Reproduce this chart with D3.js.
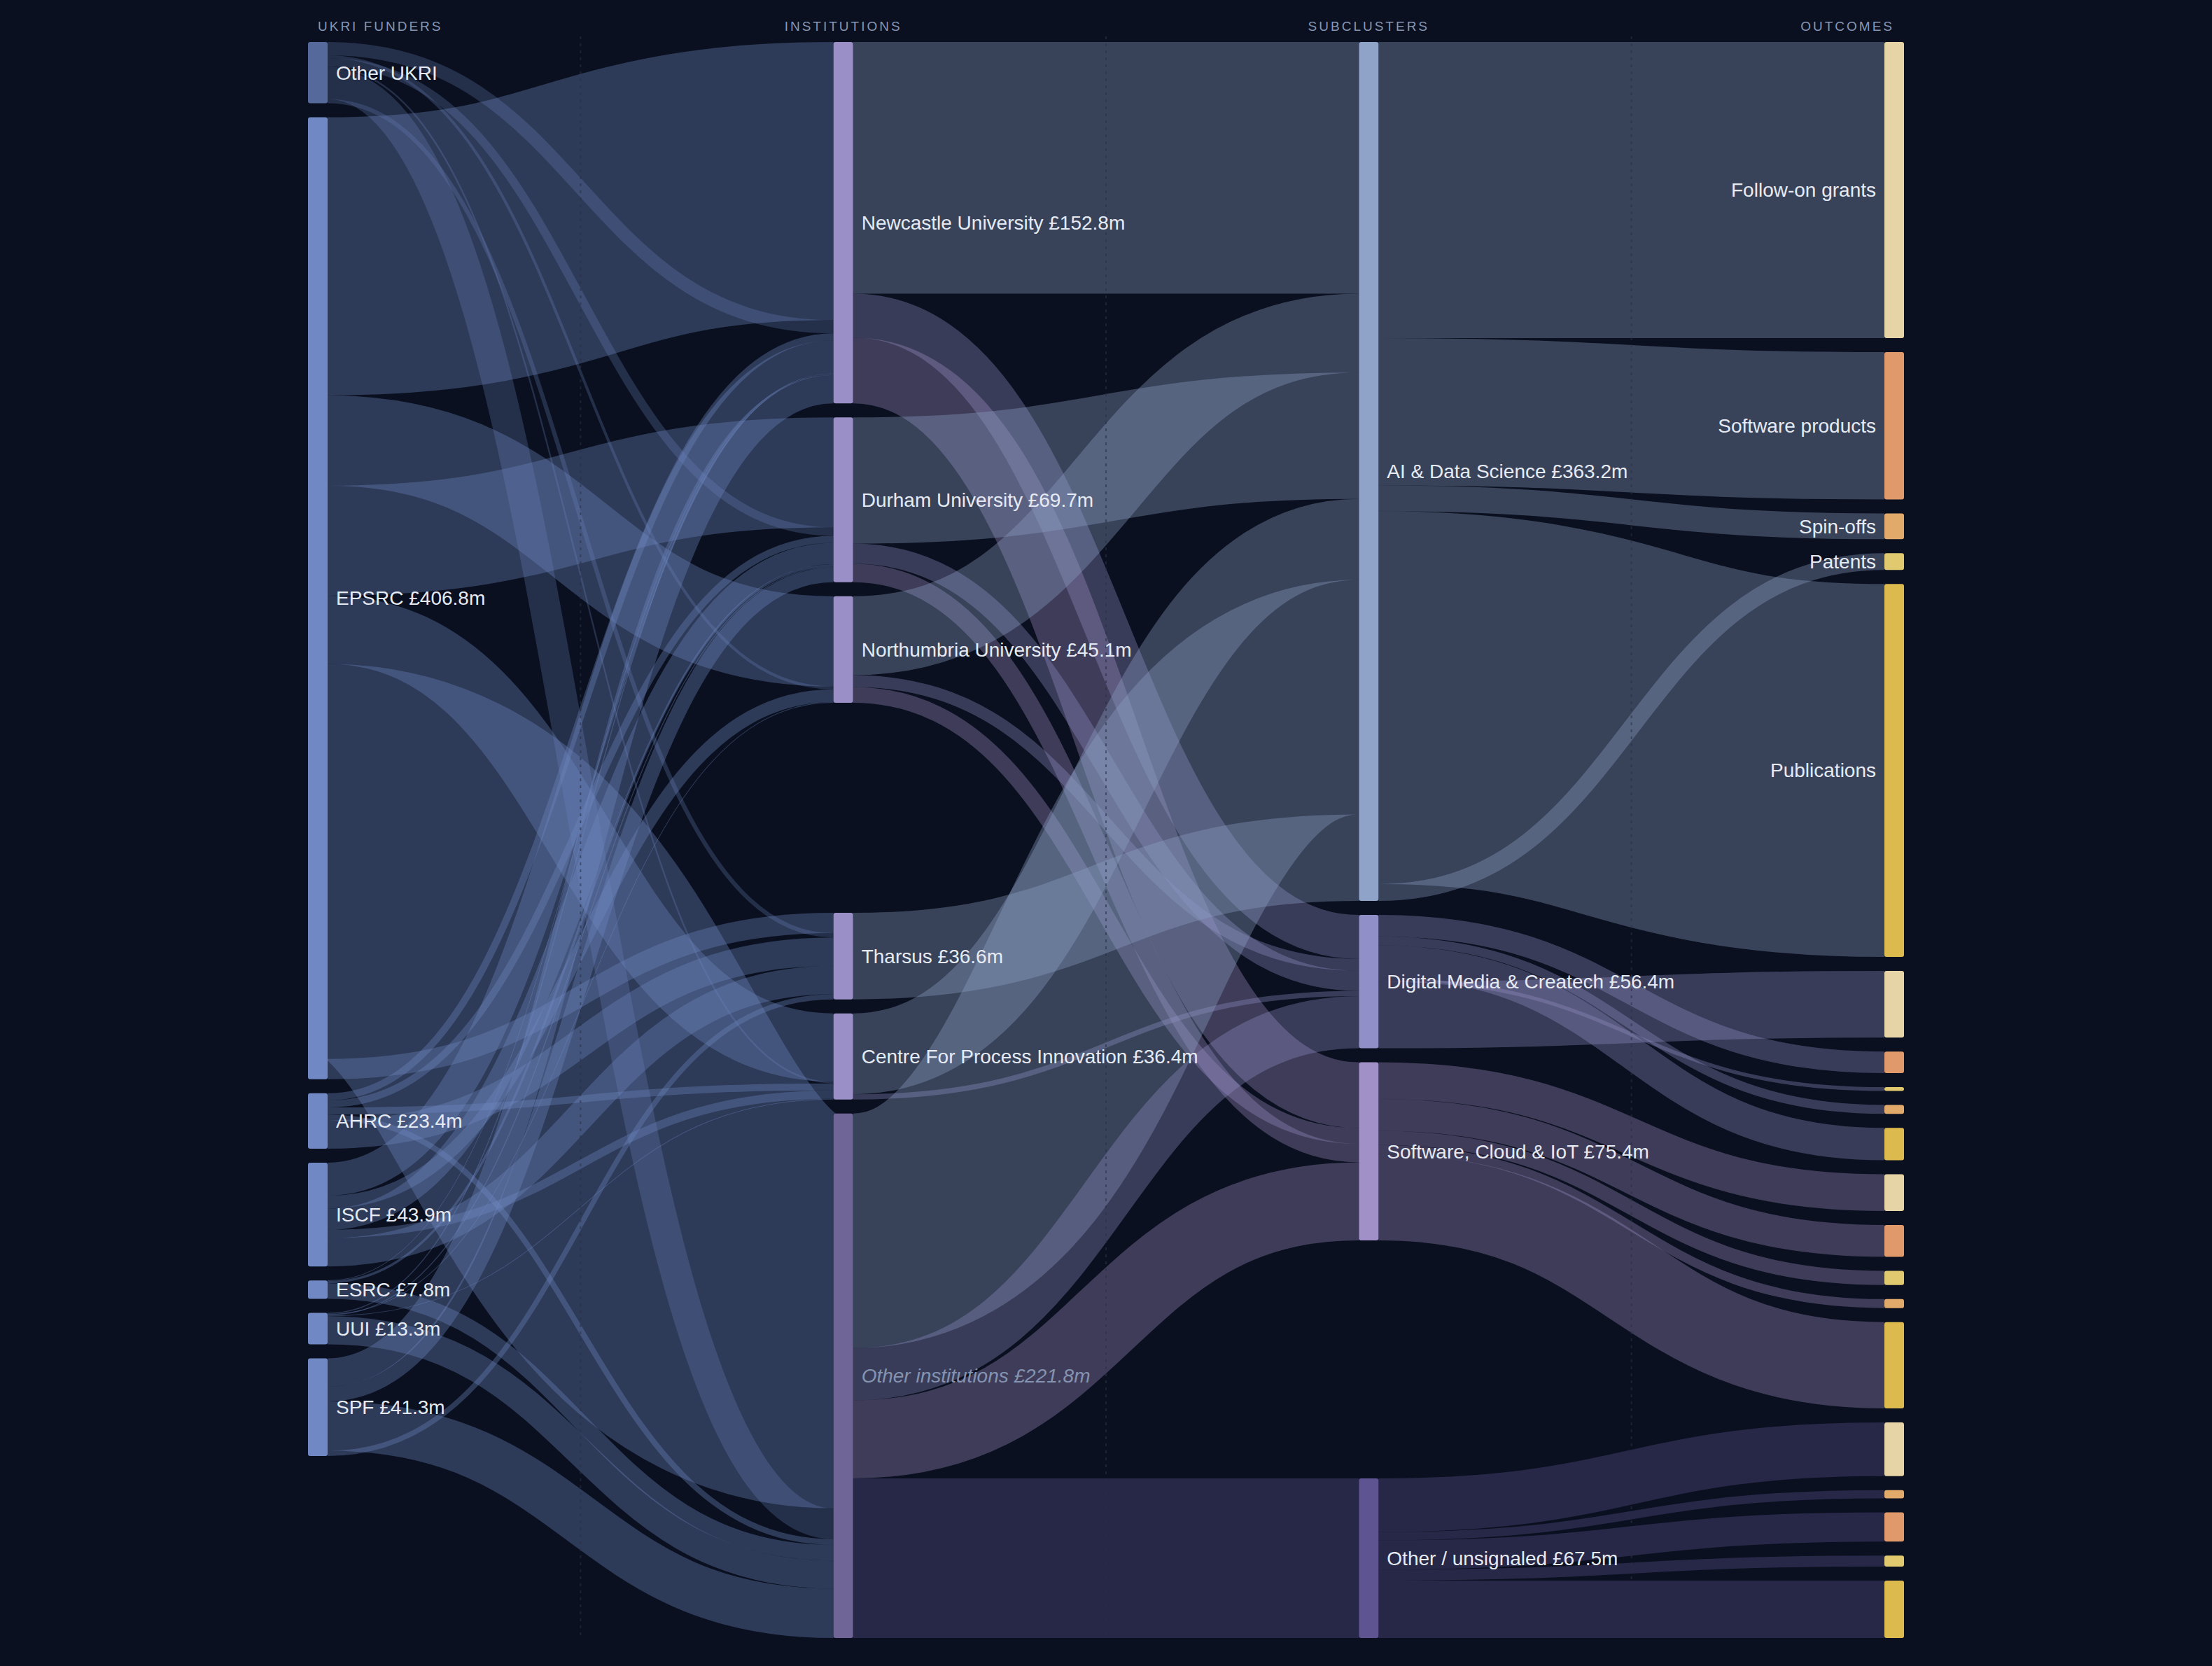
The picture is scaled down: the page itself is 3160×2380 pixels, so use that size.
<!DOCTYPE html>
<html>
<head>
<meta charset="utf-8">
<script src="https://cdn.jsdelivr.net/npm/d3@7"></script>
<style>
  html, body { margin: 0; padding: 0; background: #0a101f; }
  svg { display: block; }
</style>
</head>
<body>
<div id="chart"></div>
<script>
// ---- data (£m) ----
const columnTitles = ["UKRI FUNDERS", "INSTITUTIONS", "SUBCLUSTERS", "OUTCOMES"];

const funders = ["Other UKRI", "EPSRC", "AHRC", "ISCF", "ESRC", "UUI", "SPF"];
const funderTotals = [null, 406.8, 23.4, 43.9, 7.8, 13.3, 41.3];

const institutions = ["Newcastle University", "Durham University", "Northumbria University",
  "Tharsus", "Centre For Process Innovation", "Other institutions"];
const institutionTotals = [152.8, 69.7, 45.1, 36.6, 36.4, 221.8];

const subclusters = ["AI & Data Science", "Digital Media & Createch", "Software, Cloud & IoT", "Other / unsignaled"];
const subclusterTotals = [363.2, 56.4, 75.4, 67.5];

const outcomeTypes = ["Follow-on grants", "Software products", "Spin-offs", "Patents", "Publications"];
// outcome nodes under each subcluster, top to bottom (index into outcomeTypes)
const outcomeOrder = [[0, 1, 2, 3, 4], [0, 1, 3, 2, 4], [0, 1, 3, 2, 4], [0, 2, 1, 3, 4]];

// order in which flows leave a funder / reach a subcluster, and reach an institution
const institutionFlowOrder = ["Newcastle University", "Northumbria University", "Durham University",
  "Centre For Process Innovation", "Other institutions", "Tharsus"];
const funderFlowOrder = ["EPSRC", "Other UKRI", "AHRC", "ISCF", "ESRC", "UUI", "SPF"];

// rows = funders, columns = institutions
const funderToInstitution = [
  [5.6, 3.6, 1.2, 1.8, 0.7, 13.0],
  [117.6, 46.5, 38.2, 8.6, 28.9, 167.0],
  [3.0, 3.0, 0, 12.0, 3.0, 2.4],
  [14.0, 9.0, 5.4, 12.0, 3.5, 0],
  [0.2, 1.0, 0, 0, 0, 6.6],
  [0.4, 0.4, 0.3, 0, 0.3, 11.9],
  [12.0, 6.2, 0, 2.2, 0, 20.9]
];

// rows = institutions, columns = subclusters
const institutionToSubcluster = [
  [106.4, 18.6, 27.8, 0],
  [53.4, 8.5, 7.8, 0],
  [33.4, 5.0, 6.7, 0],
  [36.6, 0, 0, 0],
  [34.2, 2.2, 0, 0],
  [99.2, 22.1, 33.0, 67.5]
];

// rows = subclusters, columns = outcomeTypes
const subclusterToOutcome = [
  [125.2, 62.3, 10.9, 7.1, 157.7],
  [28.2, 9.1, 3.8, 1.6, 13.7],
  [15.5, 13.5, 3.8, 6.0, 36.5],
  [22.7, 12.4, 3.5, 4.6, 24.3]
];

// ---- styles ----
const W = 3160, H = 2380;
const BG = "#0a101f";
const FONT = "'Liberation Sans', Arial, sans-serif";
const funderColor = (i) => i === 0 ? "#556a9b" : "#7089c4";
const institutionColor = (name) => name === "Other institutions" ? "#6f6597" : "#9b8fc8";
const subclusterColors = ["#8fa2c8", "#918fc7", "#a18fc7", "#5e5491"];
const outcomeColors = ["#e6d3a6", "#e0996a", "#e2aa6a", "#e0c96e", "#dcba4e"];

// ---- graph ----
const nodes = [];
const fNodes = funders.map((name, i) => {
  const n = { name, col: 0, color: funderColor(i), total: funderTotals[i] };
  nodes.push(n); return n;
});
const iNodes = institutions.map((name, i) => {
  const n = { name, col: 1, color: institutionColor(name), total: institutionTotals[i], muted: name === "Other institutions" };
  nodes.push(n); return n;
});
const sNodes = subclusters.map((name, i) => {
  const n = { name, col: 2, color: subclusterColors[i], total: subclusterTotals[i] };
  nodes.push(n); return n;
});
const oNodes = subclusters.map((s, si) => {
  const byType = [];
  outcomeOrder[si].forEach(k => {
    const n = { name: outcomeTypes[k], col: 3, color: outcomeColors[k], total: null };
    nodes.push(n); byType[k] = n;
  });
  return byType;
});

const links = [];
funderToInstitution.forEach((row, i) => row.forEach((v, j) => {
  if (v > 0) links.push({ source: fNodes[i], target: iNodes[j], value: v });
}));
institutionToSubcluster.forEach((row, i) => row.forEach((v, j) => {
  if (v > 0) links.push({ source: iNodes[i], target: sNodes[j], value: v });
}));
subclusterToOutcome.forEach((row, i) => row.forEach((v, k) => {
  if (v > 0) links.push({ source: sNodes[i], target: oNodes[i][k], value: v });
}));

// ---- sankey layout (same algorithm as d3-sankey, node order kept) ----
function layoutSankey(graph, o) {
  const { x0, y0, x1, y1, dx, dy, iterations, finalOrder } = o;
  const { nodes, links } = graph;
  nodes.forEach((n, i) => { n.index = i; n.sourceLinks = []; n.targetLinks = []; });
  links.forEach((l, i) => {
    l.index = i;
    l.source.sourceLinks.push(l);
    l.target.targetLinks.push(l);
  });
  nodes.forEach(n => {
    n.value = Math.max(d3.sum(n.sourceLinks, l => l.value), d3.sum(n.targetLinks, l => l.value));
  });

  const nCols = d3.max(nodes, n => n.col) + 1;
  const kx = (x1 - x0 - dx) / (nCols - 1);
  const columns = d3.range(nCols).map(() => []);
  nodes.forEach(n => {
    n.layer = n.col;
    n.x0 = x0 + n.col * kx;
    n.x1 = n.x0 + dx;
    columns[n.col].push(n);
  });
  const py = Math.min(dy, (y1 - y0) / (d3.max(columns, c => c.length) - 1));
  const ky = d3.min(columns, c => (y1 - y0 - (c.length - 1) * py) / d3.sum(c, n => n.value));

  const byY = (a, b) => a.y0 - b.y0;
  const bySource = (a, b) => byY(a.source, b.source) || a.index - b.index;
  const byTarget = (a, b) => byY(a.target, b.target) || a.index - b.index;

  function reorderNodeLinks(node) {
    node.targetLinks.forEach(l => l.source.sourceLinks.sort(byTarget));
    node.sourceLinks.forEach(l => l.target.targetLinks.sort(bySource));
  }

  columns.forEach(col => {
    let y = y0;
    col.forEach(n => {
      n.y0 = y;
      n.y1 = y + n.value * ky;
      y = n.y1 + py;
      n.sourceLinks.forEach(l => l.width = l.value * ky);
    });
    y = (y1 - y + py) / (col.length + 1);
    col.forEach((n, i) => { n.y0 += y * (i + 1); n.y1 += y * (i + 1); });
    col.forEach(n => { n.sourceLinks.sort(byTarget); n.targetLinks.sort(bySource); });
  });

  function targetTop(source, target) {
    let y = source.y0 - (source.sourceLinks.length - 1) * py / 2;
    for (const l of source.sourceLinks) { if (l.target === target) break; y += l.width + py; }
    for (const l of target.targetLinks) { if (l.source === source) break; y -= l.width; }
    return y;
  }
  function sourceTop(source, target) {
    let y = target.y0 - (target.targetLinks.length - 1) * py / 2;
    for (const l of target.targetLinks) { if (l.source === source) break; y += l.width + py; }
    for (const l of source.sourceLinks) { if (l.target === target) break; y -= l.width; }
    return y;
  }
  function pushDown(col, y, i, alpha) {
    for (; i < col.length; ++i) {
      const n = col[i];
      const d = (y - n.y0) * alpha;
      if (d > 1e-6) { n.y0 += d; n.y1 += d; }
      y = n.y1 + py;
    }
  }
  function pushUp(col, y, i, alpha) {
    for (; i >= 0; --i) {
      const n = col[i];
      const d = (n.y1 - y) * alpha;
      if (d > 1e-6) { n.y0 -= d; n.y1 -= d; }
      y = n.y0 - py;
    }
  }
  function resolveCollisions(col, alpha) {
    const i = col.length >> 1;
    const s = col[i];
    pushUp(col, s.y0 - py, i - 1, alpha);
    pushDown(col, s.y1 + py, i + 1, alpha);
    pushUp(col, y1, col.length - 1, alpha);
    pushDown(col, y0, 0, alpha);
  }
  function relaxLeftToRight(alpha, beta) {
    for (let i = 1; i < columns.length; ++i) {
      const col = columns[i];
      for (const t of col) {
        let y = 0, w = 0;
        for (const l of t.targetLinks) {
          const v = l.value * (t.layer - l.source.layer);
          y += targetTop(l.source, t) * v;
          w += v;
        }
        if (!(w > 0)) continue;
        const d = (y / w - t.y0) * alpha;
        t.y0 += d; t.y1 += d;
        reorderNodeLinks(t);
      }
      resolveCollisions(col, beta);
    }
  }
  function relaxRightToLeft(alpha, beta) {
    for (let i = columns.length - 2; i >= 0; --i) {
      const col = columns[i];
      for (const s of col) {
        let y = 0, w = 0;
        for (const l of s.sourceLinks) {
          const v = l.value * (l.target.layer - s.layer);
          y += sourceTop(s, l.target) * v;
          w += v;
        }
        if (!(w > 0)) continue;
        const d = (y / w - s.y0) * alpha;
        s.y0 += d; s.y1 += d;
        reorderNodeLinks(s);
      }
      resolveCollisions(col, beta);
    }
  }
  for (let i = 0; i < iterations; ++i) {
    const alpha = Math.pow(0.99, i);
    const beta = Math.max(1 - alpha, (i + 1) / iterations);
    relaxRightToLeft(alpha, beta);
    relaxLeftToRight(alpha, beta);
  }

  if (finalOrder) nodes.forEach(finalOrder);

  nodes.forEach(n => {
    let a = n.y0, b = n.y0;
    n.sourceLinks.forEach(l => { l.y0 = a + l.width / 2; a += l.width; });
    n.targetLinks.forEach(l => { l.y1 = b + l.width / 2; b += l.width; });
  });
  return { columns, py, ky };
}

const instRank = name => institutionFlowOrder.indexOf(name);
const funderRank = name => funderFlowOrder.indexOf(name);

const layout = layoutSankey({ nodes, links }, {
  x0: 440, y0: 60, x1: 2720, y1: 2340, dx: 28, dy: 20, iterations: 6,
  finalOrder: n => {
    if (n.col === 0) n.sourceLinks.sort((a, b) => instRank(a.target.name) - instRank(b.target.name));
    if (n.col === 1) n.targetLinks.sort((a, b) => funderRank(a.source.name) - funderRank(b.source.name));
    if (n.col === 2) n.targetLinks.sort((a, b) => instRank(a.source.name) - instRank(b.source.name));
  }
});

// ---- draw ----
const svg = d3.select("#chart").append("svg")
  .attr("width", W)
  .attr("height", H)
  .style("font-family", FONT);

svg.append("rect").attr("width", W).attr("height", H).attr("fill", BG);

const colCenters = layout.columns.map(c => (c[0].x0 + c[0].x1) / 2);

// column headers
svg.append("g").selectAll("text")
  .data(columnTitles)
  .join("text")
  .attr("x", (d, i) => colCenters[i])
  .attr("y", 44)
  .attr("text-anchor", (d, i) => i === 0 ? "start" : i === columnTitles.length - 1 ? "end" : "middle")
  .attr("font-size", 19)
  .attr("letter-spacing", 3)
  .attr("fill", "#8796b3")
  .text(d => d);

// links
const linkPath = d3.linkHorizontal()
  .source(d => [d.source.x1, d.y0])
  .target(d => [d.target.x0, d.y1]);

svg.append("g")
  .attr("fill", "none")
  .selectAll("path")
  .data(links)
  .join("path")
  .attr("d", linkPath)
  .attr("stroke", d => d.source.col === 1 ? d.target.color : d.source.color)
  .attr("stroke-opacity", 0.35)
  .attr("stroke-width", d => Math.max(1, d.width));

// faint guides between columns
svg.append("g").selectAll("line")
  .data(d3.pairs(colCenters))
  .join("line")
  .attr("x1", d => (d[0] + d[1]) / 2)
  .attr("x2", d => (d[0] + d[1]) / 2)
  .attr("y1", 52)
  .attr("y2", 2336)
  .attr("stroke", "#283045")
  .attr("stroke-opacity", 0.6)
  .attr("stroke-width", 2)
  .attr("stroke-dasharray", "4,6");

// nodes
svg.append("g").selectAll("rect")
  .data(nodes)
  .join("rect")
  .attr("x", d => d.x0)
  .attr("y", d => d.y0)
  .attr("width", d => d.x1 - d.x0)
  .attr("height", d => Math.max(1, d.y1 - d.y0))
  .attr("rx", 3)
  .attr("fill", d => d.color);

// labels (outcome names only on their first appearance)
const seen = new Set();
const labelled = nodes.filter(d => {
  if (d.col !== 3) return true;
  if (seen.has(d.name)) return false;
  seen.add(d.name);
  return true;
});

svg.append("g").selectAll("text")
  .data(labelled)
  .join("text")
  .attr("x", d => d.col === 3 ? d.x0 - 12 : d.x1 + 12)
  .attr("y", d => (d.y0 + d.y1) / 2)
  .attr("dy", "0.35em")
  .attr("text-anchor", d => d.col === 3 ? "end" : "start")
  .attr("font-size", 28)
  .attr("font-style", d => d.muted ? "italic" : "normal")
  .attr("fill", d => d.muted ? "#8493b0" : "#e6eaf3")
  .text(d => d.total != null ? `${d.name} £${d.total.toFixed(1)}m` : d.name);
</script>
</body>
</html>
